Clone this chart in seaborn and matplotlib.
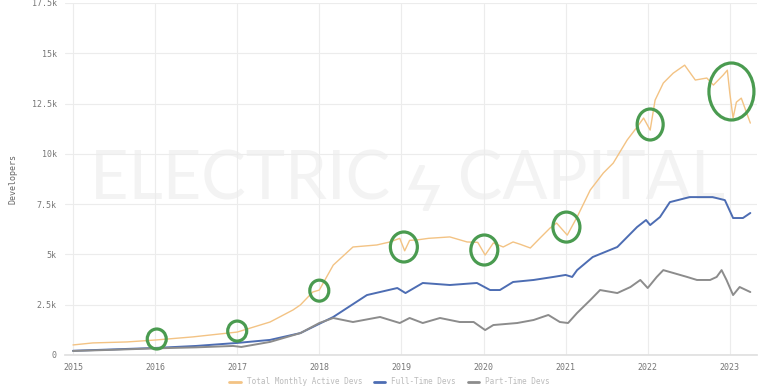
import numpy as np
import pandas as pd
import matplotlib
matplotlib.use("Agg")
import matplotlib.pyplot as plt
from matplotlib.patches import Ellipse
from matplotlib.lines import Line2D
import seaborn as sns

# ---------------- data ----------------
orange_x = [2015.00, 2015.24, 2015.66, 2016.02, 2016.46, 2017.00, 2017.40, 2017.68,
            2017.77, 2017.92, 2018.00, 2018.17, 2018.41, 2018.70, 2018.86, 2018.98,
            2019.04, 2019.10, 2019.19, 2019.33, 2019.59, 2019.80, 2019.93, 2020.02,
            2020.12, 2020.24, 2020.36, 2020.45, 2020.57, 2020.69, 2020.81, 2020.89,
            2021.02, 2021.14, 2021.30, 2021.46, 2021.58, 2021.75, 2021.87, 2021.95,
            2022.03, 2022.09, 2022.19, 2022.31, 2022.45, 2022.58, 2022.72, 2022.80,
            2022.92, 2022.97, 2023.00, 2023.04, 2023.08, 2023.14, 2023.25]
orange_y = [500, 600, 650, 750, 900, 1140, 1640, 2240,
            2490, 3130, 3230, 4470, 5370, 5470, 5620, 5800,
            5180, 5700, 5720, 5800, 5870, 5620, 5600, 4970,
            5570, 5370, 5620, 5500, 5320, 5820, 6310, 6560,
            5960, 6860, 8200, 9050, 9540, 10690, 11330, 11780,
            11180, 12670, 13520, 14010, 14410, 13670, 13770, 13420,
            13920, 14160, 13020, 11780, 12570, 12770, 11530]

blue_x = [2015.00, 2015.50, 2016.00, 2016.50, 2017.00, 2017.40, 2017.77, 2018.17,
          2018.58, 2018.95, 2019.05, 2019.26, 2019.59, 2019.92, 2020.08, 2020.20,
          2020.36, 2020.61, 2020.85, 2021.00, 2021.08, 2021.14, 2021.33, 2021.63,
          2021.87, 2021.98, 2022.03, 2022.15, 2022.27, 2022.51, 2022.79, 2022.94,
          2023.04, 2023.16, 2023.25]
blue_y = [210, 280, 350, 450, 600, 750, 1090, 1890,
          2980, 3330, 3080, 3580, 3480, 3580, 3230, 3230,
          3630, 3730, 3880, 3980, 3880, 4220, 4870, 5370,
          6360, 6710, 6460, 6860, 7600, 7850, 7850, 7700,
          6810, 6810, 7060]

gray_x = [2015.00, 2015.50, 2016.00, 2016.50, 2016.95, 2017.05, 2017.40, 2017.77,
          2018.00, 2018.17, 2018.41, 2018.74, 2018.86, 2018.98, 2019.10, 2019.26,
          2019.47, 2019.71, 2019.88, 2020.02, 2020.12, 2020.41, 2020.61, 2020.79,
          2020.93, 2021.03, 2021.14, 2021.30, 2021.42, 2021.63, 2021.79, 2021.91,
          2022.00, 2022.11, 2022.19, 2022.31, 2022.48, 2022.60, 2022.76, 2022.84,
          2022.90, 2022.96, 2023.04, 2023.12, 2023.25]
gray_y = [200, 260, 330, 380, 450, 400, 650, 1090,
          1590, 1840, 1640, 1890, 1740, 1590, 1840, 1590,
          1840, 1640, 1640, 1240, 1490, 1590, 1740, 1990,
          1640, 1590, 2090, 2730, 3230, 3080, 3380, 3730,
          3330, 3880, 4220, 4080, 3880, 3730, 3730, 3880,
          4220, 3730, 2980, 3380, 3130]

series_names = ["Total Monthly Active Devs", "Full-Time Devs", "Part-Time Devs"]
series_colors = ["#F3C384", "#4D6DB3", "#8C8C8C"]

year_ticks = [2015, 2016, 2017, 2018, 2019, 2020, 2021, 2022, 2023]
y_ticks = [0, 2500, 5000, 7500, 10000, 12500, 15000, 17500]
y_tick_labels = ["0", "2.5k", "5k", "7.5k", "10k", "12.5k", "15k", "17.5k"]

# hand-drawn highlight circles: (year, developers)
highlight_x = [2016.02, 2017.00, 2018.00, 2019.03, 2020.01, 2021.01, 2022.03, 2023.02]
highlight_y = [795, 1190, 3200, 5370, 5220, 6360, 11460, 13100]
highlight_w_px = [19, 19, 19, 27, 27, 27, 26, 45]
highlight_h_px = [20, 20, 21, 30, 30, 30, 31, 57]

# ---------------- build table ----------------
df = pd.concat([
    pd.DataFrame({"year": orange_x, "devs": orange_y, "series": series_names[0]}),
    pd.DataFrame({"year": blue_x, "devs": blue_y, "series": series_names[1]}),
    pd.DataFrame({"year": gray_x, "devs": gray_y, "series": series_names[2]}),
], ignore_index=True)

sns.set_theme(style="white")
plt.rcParams["font.family"] = ["DejaVu Sans Mono", "DejaVu Sans"]

W, H = 779, 390
fig = plt.figure(figsize=(W / 100, H / 100), dpi=100)
ax_l, ax_r, ax_t, ax_b = 65, 757, 3, 355
ax = fig.add_axes([ax_l / W, 1 - ax_b / H, (ax_r - ax_l) / W, (ax_b - ax_t) / H])

xmin = 2015 - 8 / 82.1
xmax = 2015 + (ax_r - 73) / 82.1
ax.set_xlim(xmin, xmax)
ax.set_ylim(0, 17500)

# watermark
ax.text(2019.07, 8700, "ELECTRIC \u03DF CAPITAL", ha="center", va="center",
        fontsize=48, color="#f3f3f3", family=["Lato", "DejaVu Sans"],
        fontweight="normal", zorder=0)

sns.lineplot(data=df, x="year", y="devs", hue="series", palette=series_colors,
             hue_order=series_names, ax=ax, legend=False, estimator=None, sort=False,
             linewidth=1.4)
lines = ax.get_lines()
lines[0].set_linewidth(1.0)

ax.set_xticks(year_ticks)
ax.set_xticklabels([str(y) for y in year_ticks])
ax.set_yticks(y_ticks)
ax.set_yticklabels(y_tick_labels)
ax.grid(True, color="#ececec", linewidth=0.8)
ax.set_axisbelow(True)
for s in ["top", "right", "left"]:
    ax.spines[s].set_visible(False)
ax.spines["bottom"].set_color("#e0e0e0")
ax.tick_params(axis="both", labelsize=6, colors="#777777", length=0, pad=6)
ax.set_xlabel("")
ax.set_ylabel("Developers", fontsize=6, color="#666666", labelpad=10)

# highlight circles
px_x = 82.1
px_y = 2500 / 50.3
for cx, cy, wp, hp in zip(highlight_x, highlight_y, highlight_w_px, highlight_h_px):
    ax.add_patch(Ellipse((cx, cy), wp / px_x, hp * px_y, fill=False,
                         edgecolor="#4A9B50", linewidth=2.3, zorder=5))

# legend at bottom
handles = [Line2D([], [], color=c, linewidth=2) for c in series_colors]
fig.legend(handles, series_names, loc="center", bbox_to_anchor=(0.5, 1 - 382 / H),
           ncol=3, frameon=False, fontsize=5.5, labelcolor="#bbbbbb", handlelength=1.5,
           columnspacing=1.5, borderpad=0.1)

fig.savefig("out.png", dpi=100)
